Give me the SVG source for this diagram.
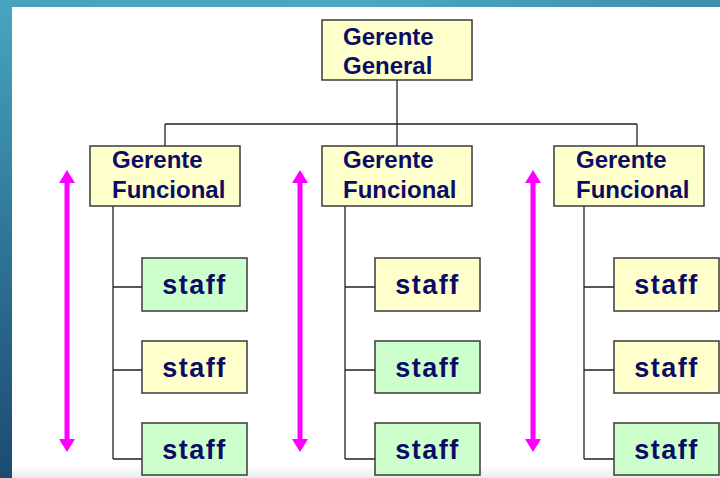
<svg xmlns="http://www.w3.org/2000/svg" width="720" height="478" viewBox="0 0 720 478">
  <defs>
    <linearGradient id="sideBand" x1="0" y1="0" x2="0" y2="1">
      <stop offset="0" stop-color="#47A6C0"/>
      <stop offset="0.5" stop-color="#2F7597"/>
      <stop offset="1" stop-color="#1D4A70"/>
    </linearGradient>
    <linearGradient id="topBand" x1="0" y1="0" x2="1" y2="0">
      <stop offset="0" stop-color="#46A3BE"/>
      <stop offset="0.5" stop-color="#4AA8C2"/>
      <stop offset="1" stop-color="#3E8EAE"/>
    </linearGradient>
    <linearGradient id="floor" x1="0" y1="0" x2="0" y2="1">
      <stop offset="0" stop-color="#FFFFFF"/>
      <stop offset="1" stop-color="#EAEAEA"/>
    </linearGradient>
    <!-- double-headed vertical span arrow, drawn at the origin -->
    <path id="span" d="M-2.5,183 H2.5 V439 H8 L0,452 L-8,439 H-2.5 Z M-2.5,183 H-8 L0,170 L8,183 H2.5 Z"/>
  </defs>
  <style>
    .box { stroke: #3a3a3a; stroke-width: 1.5; }
    .yellow { fill: #FFFFCC; }
    .green { fill: #CCFFCC; }
    .lbl { font-family: "Comic Sans MS", "Liberation Sans", Arial, sans-serif; font-weight: bold; fill: #0C0C66; }
    .mgr { font-size: 24px; }
    .stf { font-size: 27px; letter-spacing: 1.5px; text-anchor: middle; }
    .wire { fill: none; stroke: #222; stroke-width: 1.3; }
    .spanArrow { fill: #FF00FF; }
  </style>

  <!-- slide background -->
  <rect x="0" y="0" width="720" height="478" fill="#FFFFFF"/>
  <rect x="0" y="466" width="720" height="12" fill="url(#floor)"/>
  <rect x="0" y="0" width="12" height="478" fill="url(#sideBand)"/>
  <rect x="0" y="0" width="720" height="7" fill="url(#topBand)"/>

  <!-- connectors -->
  <g id="connectors">
    <path class="wire" d="M397,80 V124 M165,124 H637 M165,124 V146 M397,124 V146 M637,124 V146"/>
    <path class="wire" d="M113,206 V459 M113,287 H142 M113,370 H142 M113,459 H142"/>
    <path class="wire" d="M345,206 V459 M345,287 H375 M345,370 H375 M345,459 H375"/>
    <path class="wire" d="M584,206 V459 M584,287 H614 M584,370 H614 M584,459 H614"/>
  </g>

  <!-- span arrows -->
  <g id="spans" class="spanArrow">
    <use href="#span" x="67" y="0"/>
    <use href="#span" x="300" y="0"/>
    <use href="#span" x="533" y="0"/>
  </g>

  <g id="gerente-general">
    <rect class="box yellow" x="322" y="20" width="150" height="60"/>
    <text class="lbl mgr" x="343" y="45">Gerente</text>
    <text class="lbl mgr" x="343" y="74">General</text>
  </g>

  <g id="funcional-1">
    <rect class="box yellow" x="90" y="146" width="150" height="60"/>
    <text class="lbl mgr" x="112" y="168">Gerente</text>
    <text class="lbl mgr" x="112" y="198">Funcional</text>
  </g>
  <g id="funcional-2">
    <rect class="box yellow" x="322" y="146" width="150" height="60"/>
    <text class="lbl mgr" x="343" y="168">Gerente</text>
    <text class="lbl mgr" x="343" y="198">Funcional</text>
  </g>
  <g id="funcional-3">
    <rect class="box yellow" x="554" y="146" width="150" height="60"/>
    <text class="lbl mgr" x="576" y="168">Gerente</text>
    <text class="lbl mgr" x="576" y="198">Funcional</text>
  </g>

  <!-- staff, column 1 -->
  <g id="staff-1-1">
    <rect class="box green" x="142" y="258" width="105" height="53"/>
    <text class="lbl stf" x="194.5" y="294">staff</text>
  </g>
  <g id="staff-1-2">
    <rect class="box yellow" x="142" y="341" width="105" height="52"/>
    <text class="lbl stf" x="194.5" y="377">staff</text>
  </g>
  <g id="staff-1-3">
    <rect class="box green" x="142" y="423" width="105" height="52"/>
    <text class="lbl stf" x="194.5" y="459">staff</text>
  </g>

  <!-- staff, column 2 -->
  <g id="staff-2-1">
    <rect class="box yellow" x="375" y="258" width="105" height="53"/>
    <text class="lbl stf" x="427.5" y="294">staff</text>
  </g>
  <g id="staff-2-2">
    <rect class="box green" x="375" y="341" width="105" height="52"/>
    <text class="lbl stf" x="427.5" y="377">staff</text>
  </g>
  <g id="staff-2-3">
    <rect class="box green" x="375" y="423" width="105" height="52"/>
    <text class="lbl stf" x="427.5" y="459">staff</text>
  </g>

  <!-- staff, column 3 -->
  <g id="staff-3-1">
    <rect class="box yellow" x="614" y="258" width="105" height="53"/>
    <text class="lbl stf" x="666.5" y="294">staff</text>
  </g>
  <g id="staff-3-2">
    <rect class="box yellow" x="614" y="341" width="105" height="52"/>
    <text class="lbl stf" x="666.5" y="377">staff</text>
  </g>
  <g id="staff-3-3">
    <rect class="box green" x="614" y="423" width="105" height="52"/>
    <text class="lbl stf" x="666.5" y="459">staff</text>
  </g>
</svg>
